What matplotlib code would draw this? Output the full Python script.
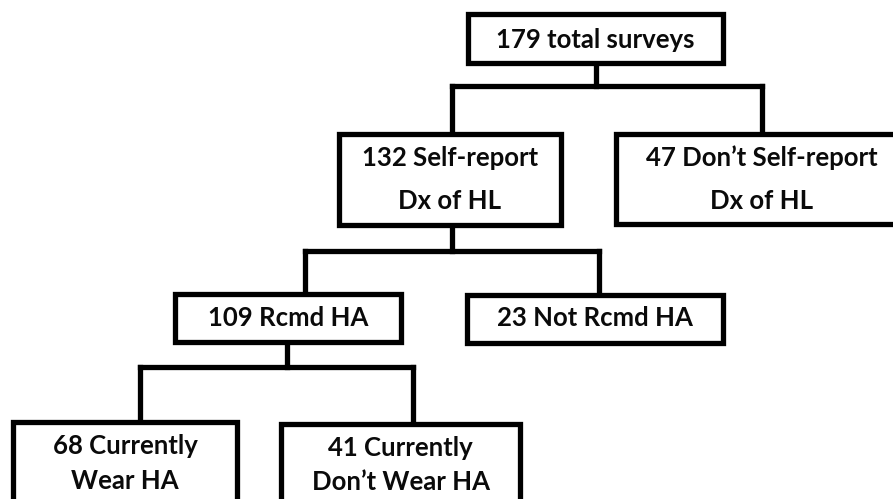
import matplotlib
matplotlib.use("Agg")
import matplotlib.pyplot as plt
from matplotlib.patches import Rectangle

# Data: counts and labels of the flowchart nodes
counts = [179, 132, 47, 109, 23, 68, 41]
labels = [
    ["{} total surveys"],
    ["{} Self-report", "Dx of HL"],
    ["{} Don\u2019t Self-report", "Dx of HL"],
    ["{} Rcmd HA"],
    ["{} Not Rcmd HA"],
    ["{} Currently", "Wear HA"],
    ["{} Currently", "Don\u2019t Wear HA"],
]
parents = [None, 0, 0, 1, 1, 3, 3]

# Layout (pixel coordinates): x0, x1, y0, y1, text line y positions
boxes = [
    (468, 723, 14, 63, [40]),
    (339, 561, 134, 225, [158, 201]),
    (616, 908, 134, 224, [158, 201]),
    (175, 401, 294, 342, [318]),
    (467, 723, 295, 343, [318]),
    (13, 237, 422, 520, [446, 481]),
    (281, 520, 424, 520, [448, 482]),
]
branch_y = {0: 86, 1: 251, 3: 367}
drop_x = {1: 452, 2: 762, 3: 305, 4: 599, 5: 140, 6: 413}
stem_x = {0: 596, 1: 452, 3: 287}

W, H = 893, 499
fig = plt.figure(figsize=(W / 100, H / 100), dpi=100)
ax = fig.add_axes([0, 0, 1, 1])
ax.set_xlim(0, W)
ax.set_ylim(H, 0)
ax.axis("off")

lw = 3.8
fs = 18.5
font = "Lato"

for i, (x0, x1, y0, y1, ty) in enumerate(boxes):
    ax.add_patch(Rectangle((x0, y0), x1 - x0, y1 - y0, fill=True, fc="white",
                           ec="black", lw=lw, joinstyle="miter", zorder=3))
    cx = (x0 + x1) / 2
    for j, (line, yy) in enumerate(zip(labels[i], ty)):
        txt = line.format(counts[i]) if j == 0 else line
        ax.text(cx, yy, txt, ha="center", va="center", fontsize=fs,
                fontweight="bold", family=font, color="#0a0a0a", zorder=4)

# connectors
for p in branch_y:
    kids = [k for k, q in enumerate(parents) if q == p]
    by = branch_y[p]
    px = stem_x[p]
    ax.plot([px, px], [boxes[p][3], by], color="black", lw=lw, solid_capstyle="projecting", zorder=2)
    xs = [drop_x[k] for k in kids]
    ax.plot([min(xs), max(xs)], [by, by], color="black", lw=lw, solid_capstyle="projecting", zorder=2)
    for k in kids:
        ax.plot([drop_x[k], drop_x[k]], [by, boxes[k][2]], color="black", lw=lw,
                solid_capstyle="projecting", zorder=2)

fig.savefig("out.png", dpi=100, facecolor="white")
